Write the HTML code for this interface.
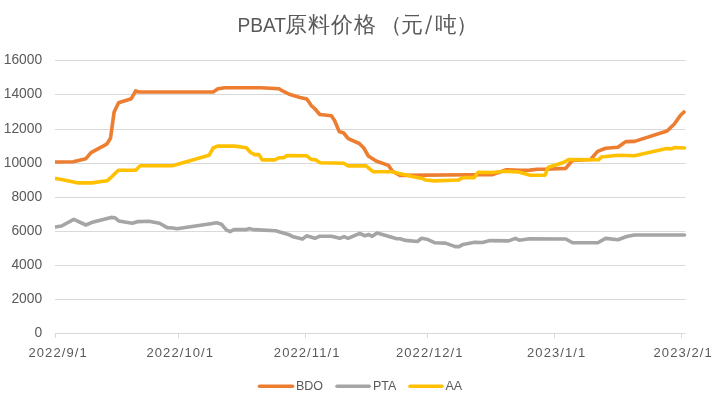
<!DOCTYPE html>
<html><head><meta charset="utf-8"><style>
html,body{margin:0;padding:0;background:#fff;width:722px;height:403px;overflow:hidden}
svg{display:block;will-change:transform}
text{font-family:"Liberation Sans",sans-serif;fill:#595959}
.yl{font-size:13.8px}
.xl{font-size:13px;letter-spacing:1.1px}
.lg{font-size:12.5px}
.tt{font-size:19px}
.tc{font-size:22px}
.tt2{font-size:20px}
</style></head><body>
<svg width="722" height="403" viewBox="0 0 722 403">
<line x1="55" y1="60.5" x2="685.5" y2="60.5" stroke="#D9D9D9" stroke-width="1"/>
<line x1="55" y1="94.5" x2="685.5" y2="94.5" stroke="#D9D9D9" stroke-width="1"/>
<line x1="55" y1="129.5" x2="685.5" y2="129.5" stroke="#D9D9D9" stroke-width="1"/>
<line x1="55" y1="163.5" x2="685.5" y2="163.5" stroke="#D9D9D9" stroke-width="1"/>
<line x1="55" y1="197.5" x2="685.5" y2="197.5" stroke="#D9D9D9" stroke-width="1"/>
<line x1="55" y1="231.5" x2="685.5" y2="231.5" stroke="#D9D9D9" stroke-width="1"/>
<line x1="55" y1="265.5" x2="685.5" y2="265.5" stroke="#D9D9D9" stroke-width="1"/>
<line x1="55" y1="299.5" x2="685.5" y2="299.5" stroke="#D9D9D9" stroke-width="1"/>
<line x1="55" y1="333.5" x2="685.5" y2="333.5" stroke="#D9D9D9" stroke-width="1"/>
<line x1="55.5" y1="333" x2="55.5" y2="338" stroke="#D9D9D9" stroke-width="1"/>
<line x1="178.5" y1="333" x2="178.5" y2="338" stroke="#D9D9D9" stroke-width="1"/>
<line x1="305.5" y1="333" x2="305.5" y2="338" stroke="#D9D9D9" stroke-width="1"/>
<line x1="427.5" y1="333" x2="427.5" y2="338" stroke="#D9D9D9" stroke-width="1"/>
<line x1="554.5" y1="333" x2="554.5" y2="338" stroke="#D9D9D9" stroke-width="1"/>
<line x1="681.5" y1="333" x2="681.5" y2="338" stroke="#D9D9D9" stroke-width="1"/>
<text x="42.1" y="64.3" text-anchor="end" class="yl">16000</text>
<text x="42.1" y="98.3" text-anchor="end" class="yl">14000</text>
<text x="42.1" y="133.3" text-anchor="end" class="yl">12000</text>
<text x="42.1" y="167.3" text-anchor="end" class="yl">10000</text>
<text x="42.1" y="201.3" text-anchor="end" class="yl">8000</text>
<text x="42.1" y="235.3" text-anchor="end" class="yl">6000</text>
<text x="42.1" y="269.3" text-anchor="end" class="yl">4000</text>
<text x="42.1" y="303.3" text-anchor="end" class="yl">2000</text>
<text x="42.1" y="337.3" text-anchor="end" class="yl">0</text>
<text x="58.1" y="357" text-anchor="middle" class="xl">2022/9/1</text>
<text x="180.3" y="357" text-anchor="middle" class="xl">2022/10/1</text>
<text x="307.2" y="357" text-anchor="middle" class="xl">2022/11/1</text>
<text x="429.8" y="357" text-anchor="middle" class="xl">2022/12/1</text>
<text x="556.7" y="357" text-anchor="middle" class="xl">2023/1/1</text>
<text x="683.2" y="357" text-anchor="middle" class="xl">2023/2/1</text>
<clipPath id="pc"><rect x="55" y="0" width="667" height="340"/></clipPath><g clip-path="url(#pc)">
<polyline points="55.3,227 61.6,226 73.8,219.4 85.9,225 91.5,222.6 111.1,217.4 114.8,217.7 118.7,220.9 132.3,223.3 138.1,221.6 148.8,221.3 159.5,223.2 167.2,227.6 173,228 176.9,228.8 210.7,223.7 216.6,222.8 221.4,224.2 226.3,229.9 230.1,231.6 234,229.5 246.4,229.6 249.8,228.6 253.1,229.6 275.7,230.8 288.3,234.4 293.2,236.8 302.4,239.1 306.6,235.8 314.9,238.3 319.9,236.2 331.5,236.2 339.8,238.3 344,236.6 348.1,238.3 359.8,233.3 364.8,235.8 368.9,234.6 372.2,236.3 377.1,233 396,238.6 400,238.8 405.7,240.4 417.4,241.5 421.7,238.2 428,239.6 435,242.8 445.5,243.1 455.2,246.6 459.1,246.6 463,244.4 474.6,242.3 482.4,242.5 490.1,240.6 508.6,240.9 515.4,238.4 519.2,240.2 529.9,238.8 565.8,239 572.6,242.8 597.8,242.8 605.6,238.4 618,239.8 626.6,236.5 634.5,235 684.5,235" fill="none" stroke="#A5A5A5" stroke-width="3.6" stroke-linejoin="round" stroke-linecap="round"/>
<polyline points="55.3,162 73.3,161.8 85.7,158.8 91,152.6 106.7,144.2 110.5,138.2 114.1,112 118.6,102.8 131.3,98.7 135.7,90.9 138.7,92 213.2,92 218,88.8 224.9,87.7 261,87.7 279,88.8 283.1,91.2 290,94.6 300,97.4 306.8,98.9 311.3,105.6 314.6,108.5 319.8,114.5 331.4,115.8 334.7,120.8 339.2,131.5 343.7,133 348.2,138.6 359.3,143.5 363.8,148 368.3,156 376.1,161 388.4,165.4 392.5,171.2 400,175.4 470,174.7 492.6,174.6 506.2,169.8 520,170.2 530,170.1 537.4,169.2 544.9,169.2 565.7,168.4 572.3,160.5 590.6,159.5 597.6,151.4 605.6,148.3 617.9,147.2 625.7,141.6 634.6,141.4 667.1,131 674.3,124 680.3,115.6 684,111.9" fill="none" stroke="#ED7D31" stroke-width="3.6" stroke-linejoin="round" stroke-linecap="round"/>
<polyline points="55.3,178.5 61.6,179.5 78.3,182.9 91.5,182.9 107.1,180.8 112.5,176 118.3,170.2 135.7,170.2 140.1,165.8 172.5,165.7 209,155.3 213.2,148 217.4,146.1 234.8,146.1 246.4,147.8 250.6,152.5 254.7,154.6 258.9,154.6 262.2,159.9 274.7,159.9 279,157.8 283.6,157.8 287.1,155.6 306.8,155.8 311.3,159.4 315.8,159.9 320.2,162.8 343.7,163.2 348.2,165.9 366,165.9 373,171.6 392,171.8 404.6,174.7 417,177.5 421.8,178.2 425.7,180 434.4,180.9 458.7,180 462.6,177.6 474.2,177.6 478.1,172.3 492.6,172.5 504.2,171.2 518.8,172 530.4,175.2 545,175.2 548.3,167.3 563.5,162.5 568.7,159.6 598.6,159.8 601.2,157 617.9,155.3 634.6,155.8 666.6,148.6 671.6,148.9 674.9,147.5 684.5,148" fill="none" stroke="#FFC000" stroke-width="3.6" stroke-linejoin="round" stroke-linecap="round"/>
</g>
<line x1="259.5" y1="386.3" x2="292.5" y2="386.3" stroke="#ED7D31" stroke-width="3.5" stroke-linecap="round"/>
<text x="296" y="390" class="lg">BDO</text>
<line x1="337" y1="386.3" x2="369.2" y2="386.3" stroke="#A5A5A5" stroke-width="3.5" stroke-linecap="round"/>
<text x="373" y="390" class="lg">PTA</text>
<line x1="410" y1="386.3" x2="441.8" y2="386.3" stroke="#FFC000" stroke-width="3.5" stroke-linecap="round"/>
<text x="445.5" y="390" class="lg">AA</text>
<text transform="translate(237.4,32) scale(0.957,1)" font-size="20" class="tt2">PBAT</text>
<text x="285.1" y="32" class="tc" letter-spacing="1">原料价格</text>
<text x="379.7" y="32" class="tc">（</text>
<text x="401" y="32" class="tc">元</text>
<line x1="425.8" y1="34.2" x2="431.4" y2="15.4" stroke="#595959" stroke-width="1.5"/>
<text x="435" y="32" class="tc">吨</text>
<text x="455.7" y="32" class="tc">）</text>
</svg>
</body></html>
